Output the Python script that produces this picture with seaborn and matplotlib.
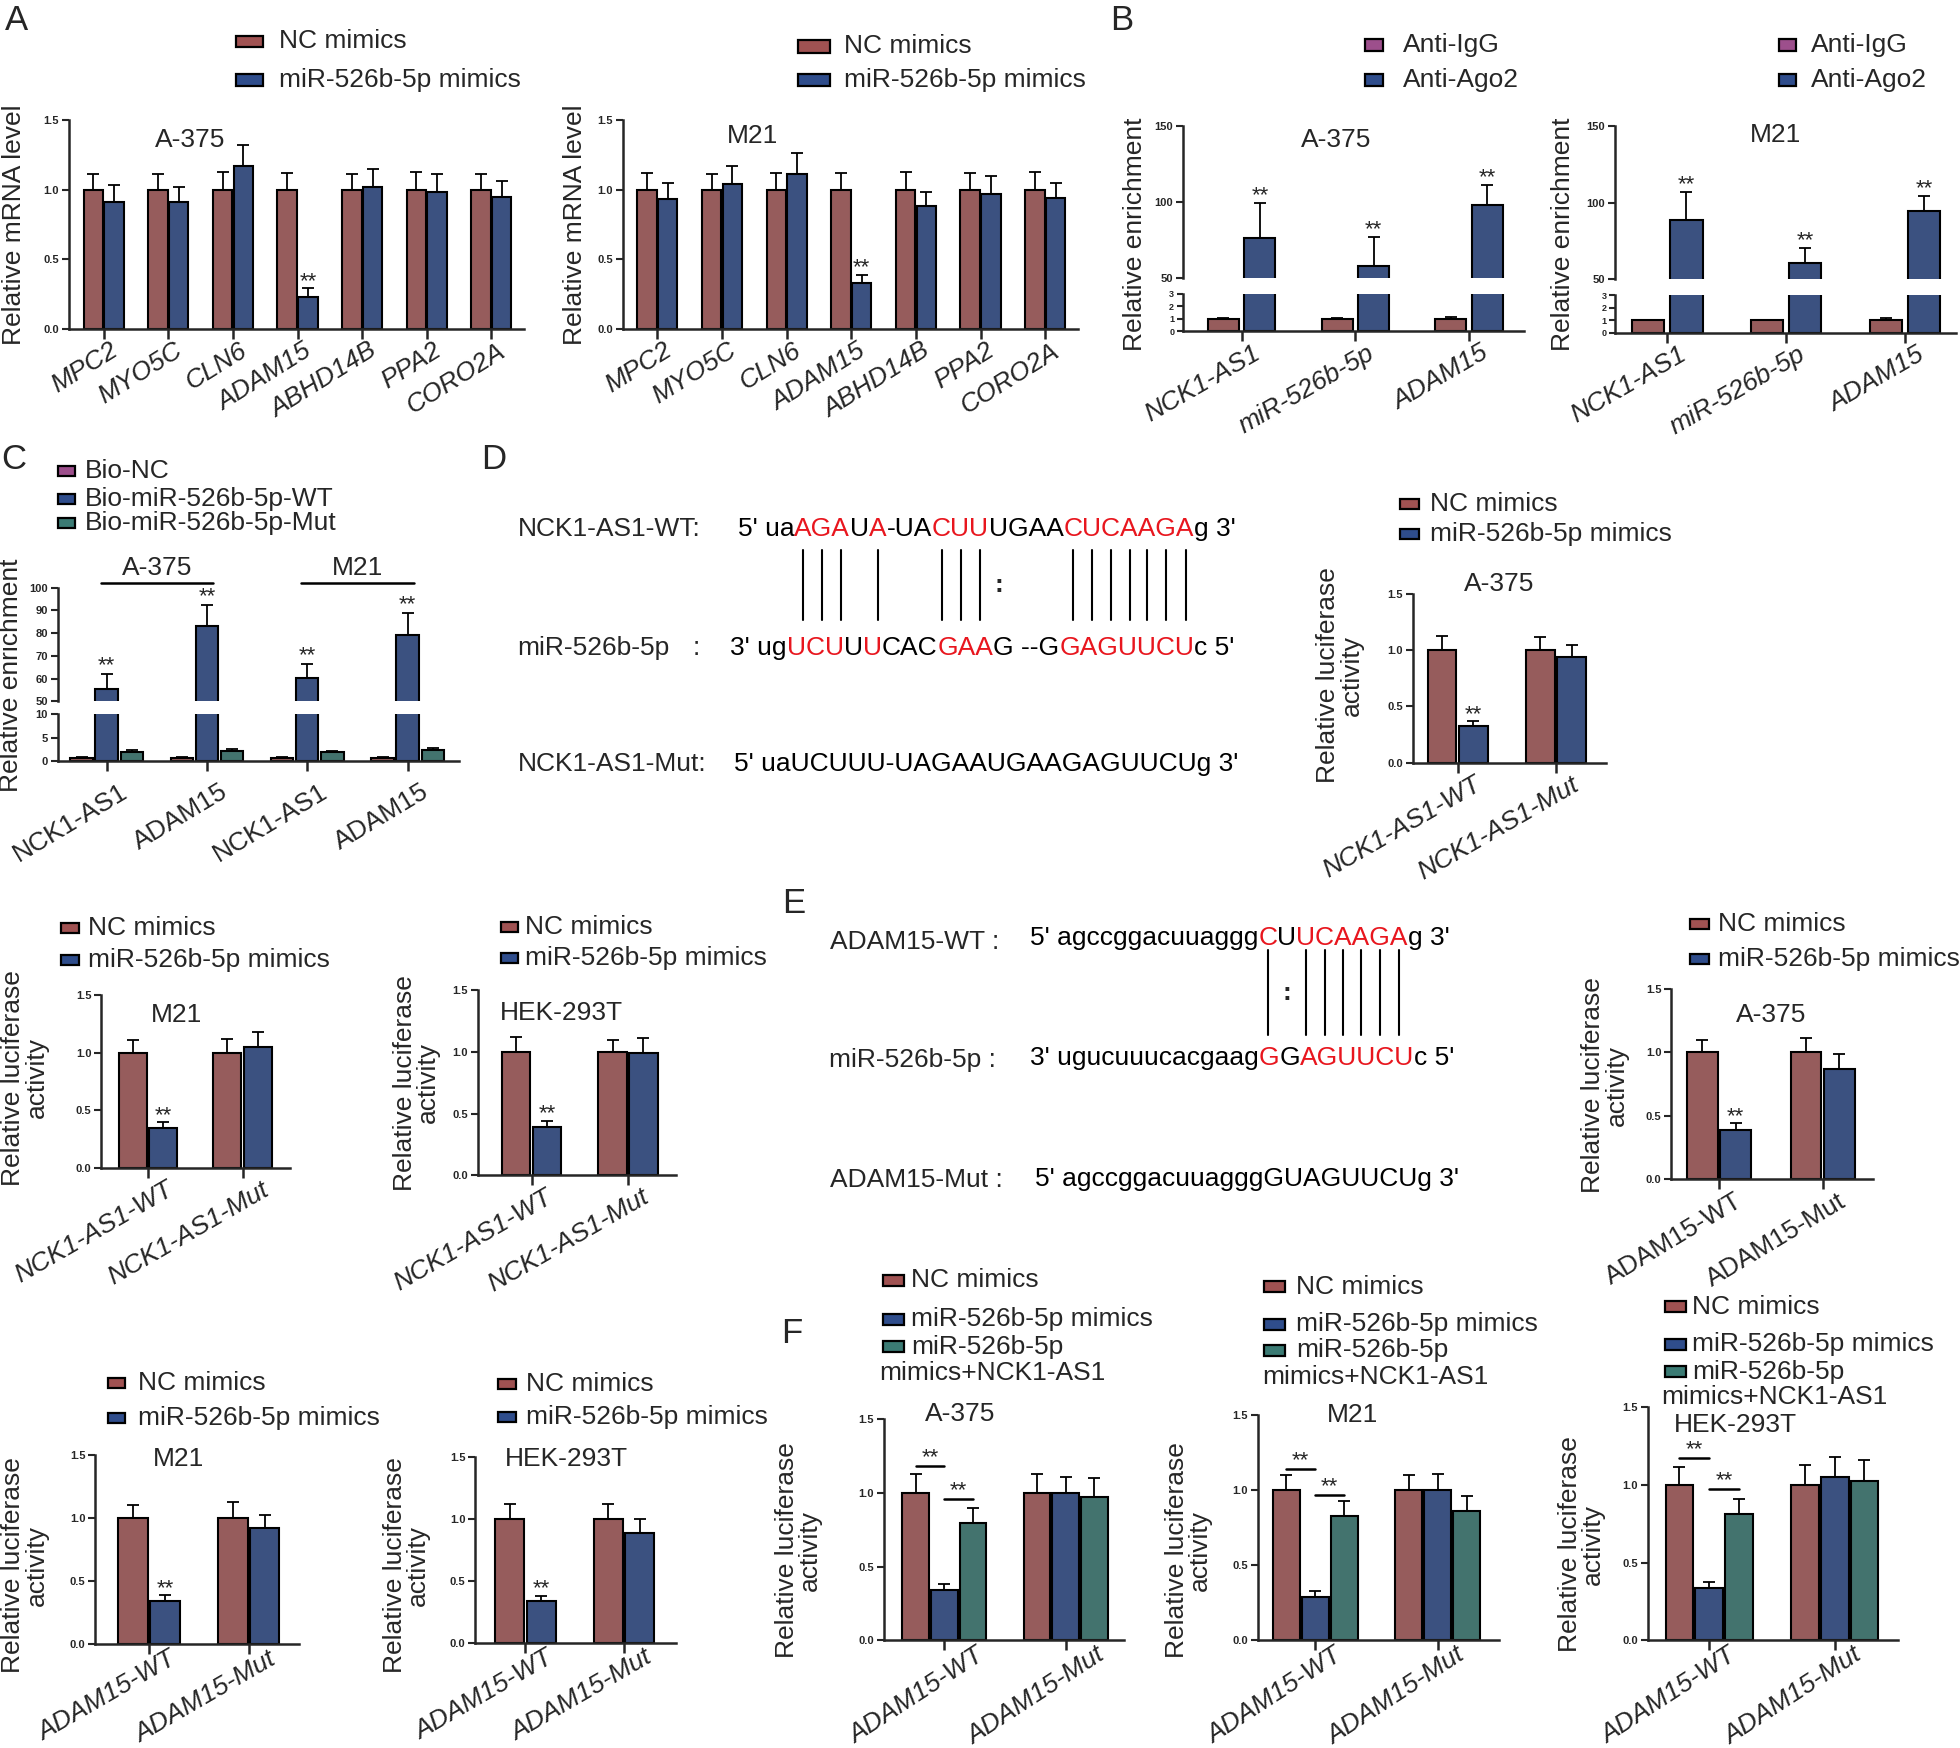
#!/usr/bin/env python3
"""Composite figure: miR-526b-5p targets NCK1-AS1 / ADAM15 (panels A-F)."""

import matplotlib
matplotlib.use("Agg")
import matplotlib.pyplot as plt
import matplotlib.transforms as mtransforms
import numpy as np
import pandas as pd
import seaborn as sns
from matplotlib.font_manager import FontProperties
from matplotlib.lines import Line2D
from matplotlib.patches import Rectangle

sns.set_theme(style="ticks")
plt.rcParams["font.family"] = ["Liberation Sans", "DejaVu Sans"]

# positions are measured on a 1568 x 1398 grid and scaled to the figure
GRID_W, GRID_H = 1568, 1398
FIG_W, FIG_H, DPI = 19.6, 17.48, 100

RED = "#A05252"
BLUE = "#2F4D8C"
TEAL = "#3B7B74"
PURPLE = "#9D4F8C"
SEQ_RED = "#E8161E"
FS = 19

# ---------------- data ----------------
GENES = ["MPC2", "MYO5C", "CLN6", "ADAM15", "ABHD14B", "PPA2", "CORO2A"]
A_A375_NC = [1.00, 1.00, 1.00, 1.00, 1.00, 1.00, 1.00]
A_A375_NC_ERR = [0.11, 0.11, 0.13, 0.12, 0.11, 0.13, 0.11]
A_A375_MIR = [0.91, 0.91, 1.17, 0.23, 1.02, 0.98, 0.95]
A_A375_MIR_ERR = [0.12, 0.11, 0.15, 0.06, 0.13, 0.13, 0.11]
A_M21_NC = [1.00, 1.00, 1.00, 1.00, 1.00, 1.00, 1.00]
A_M21_NC_ERR = [0.12, 0.11, 0.12, 0.12, 0.13, 0.12, 0.13]
A_M21_MIR = [0.93, 1.04, 1.11, 0.33, 0.88, 0.97, 0.94]
A_M21_MIR_ERR = [0.12, 0.13, 0.15, 0.06, 0.10, 0.13, 0.11]

MIMIC_GROUPS = ["NC mimics", "miR-526b-5p mimics"]
RESCUE_GROUPS = ["NC mimics", "miR-526b-5p mimics", "miR-526b-5p mimics+NCK1-AS1"]

B_TARGETS = ["NCK1-AS1", "miR-526b-5p", "ADAM15"]
B_GROUPS = ["Anti-IgG", "Anti-Ago2"]
B_A375_IGG = [1.0, 1.0, 0.95]
B_A375_IGG_ERR = [0.03, 0.03, 0.22]
B_A375_AGO2 = [76.0, 57.5, 98.0]
B_A375_AGO2_ERR = [23.5, 19.5, 13.5]
B_M21_IGG = [1.0, 1.0, 1.0]
B_M21_IGG_ERR = [0.03, 0.03, 0.15]
B_M21_AGO2 = [88.5, 60.5, 94.5]
B_M21_AGO2_ERR = [18.5, 10.0, 10.0]

C_KEYS = ["A375_NCK1", "A375_ADAM15", "M21_NCK1", "M21_ADAM15"]
C_LABELS = ["NCK1-AS1", "ADAM15", "NCK1-AS1", "ADAM15"]
C_CELLS = ["A-375", "M21"]
C_GROUPS = ["Bio-NC", "Bio-miR-526b-5p-WT", "Bio-miR-526b-5p-Mut"]
C_NC = [0.8, 0.8, 0.8, 0.8]
C_NC_ERR = [0.2, 0.2, 0.2, 0.2]
C_WT = [55.6, 83.0, 60.1, 79.1]
C_WT_ERR = [6.4, 9.2, 6.2, 9.8]
C_MUT = [2.0, 2.25, 1.9, 2.45]
C_MUT_ERR = [0.4, 0.35, 0.4, 0.4]

NCK1_SITES = ["NCK1-AS1-WT", "NCK1-AS1-Mut"]
ADAM_SITES = ["ADAM15-WT", "ADAM15-Mut"]

D_A375_NC, D_A375_NC_ERR = [1.0, 1.0], [0.125, 0.12]
D_A375_MIR, D_A375_MIR_ERR = [0.33, 0.94], [0.04, 0.105]
NCK1_M21_NC, NCK1_M21_NC_ERR = [1.0, 1.0], [0.11, 0.12]
NCK1_M21_MIR, NCK1_M21_MIR_ERR = [0.35, 1.05], [0.045, 0.135]
NCK1_HEK_NC, NCK1_HEK_NC_ERR = [1.0, 1.0], [0.12, 0.10]
NCK1_HEK_MIR, NCK1_HEK_MIR_ERR = [0.39, 0.99], [0.05, 0.12]

E_A375_NC, E_A375_NC_ERR = [1.0, 1.0], [0.10, 0.11]
E_A375_MIR, E_A375_MIR_ERR = [0.39, 0.87], [0.05, 0.115]
ADAM_M21_NC, ADAM_M21_NC_ERR = [1.0, 1.0], [0.11, 0.13]
ADAM_M21_MIR, ADAM_M21_MIR_ERR = [0.34, 0.925], [0.05, 0.105]
ADAM_HEK_NC, ADAM_HEK_NC_ERR = [1.0, 1.0], [0.12, 0.115]
ADAM_HEK_MIR, ADAM_HEK_MIR_ERR = [0.34, 0.885], [0.04, 0.11]

F_A375_NC, F_A375_NC_ERR = [1.0, 1.0], [0.13, 0.125]
F_A375_MIR, F_A375_MIR_ERR = [0.34, 1.0], [0.045, 0.11]
F_A375_RES, F_A375_RES_ERR = [0.795, 0.975], [0.10, 0.125]
F_M21_NC, F_M21_NC_ERR = [1.0, 1.0], [0.10, 0.10]
F_M21_MIR, F_M21_MIR_ERR = [0.29, 1.0], [0.04, 0.107]
F_M21_RES, F_M21_RES_ERR = [0.83, 0.86], [0.10, 0.105]
F_HEK_NC, F_HEK_NC_ERR = [1.0, 1.0], [0.11, 0.125]
F_HEK_MIR, F_HEK_MIR_ERR = [0.335, 1.05], [0.04, 0.13]
F_HEK_RES, F_HEK_RES_ERR = [0.81, 1.025], [0.10, 0.13]
F_A375_SIG = [1.18, 0.96]
F_M21_SIG = [1.14, 0.97]
F_HEK_SIG = [1.17, 0.97]

# binding sites: (text, highlighted)
D_WT_SEQ = [("5' ua", 0), ("AGA", 1), ("U", 0), ("A", 1), ("-UA", 0), ("CUU", 1),
            ("UGAA", 0), ("CUCAAGA", 1), ("g 3'", 0)]
D_MIR_SEQ = [("3' ug", 0), ("UCU", 1), ("U", 0), ("U", 1), ("CAC", 0), ("GAA", 1),
             ("G --G", 0), ("GAGUUCU", 1), ("c 5'", 0)]
D_MUT_SEQ = [("5' uaUCUUU-UAGAAUGAAGAGUUCUg 3'", 0)]
D_BONDS = "     ||| |   |||:   |||||||    "
E_WT_SEQ = [("5' agccggacuuaggg", 0), ("C", 1), ("U", 0), ("UCAAGA", 1), ("g 3'", 0)]
E_MIR_SEQ = [("3' ugucuuucacgaag", 0), ("G", 1), ("G", 0), ("AGUUCU", 1), ("c 5'", 0)]
E_MUT_SEQ = [("5' agccggacuuagggGUAGUUCUg 3'", 0)]
E_BONDS = "                 |:||||||    "

LINEAR = [0.0, 0.5, 1.0, 1.5]


def fx(x):
    return x / GRID_W


def fy(y):
    return 1 - y / GRID_H


def rect(left, top, right, bottom):
    return [fx(left), fy(bottom), (right - left) / GRID_W, (bottom - top) / GRID_H]


def draw_bars(ax, cats, groups, values, errors, colors, width, gap):
    rows = [{"cat": c, "grp": g, "val": v}
            for g, vals in zip(groups, values) for c, v in zip(cats, vals)]
    df = pd.DataFrame(rows)
    sns.barplot(data=df, x="cat", y="val", hue="grp", order=cats, hue_order=groups,
                palette=colors, width=width, gap=gap, edgecolor="black", linewidth=1.5,
                errorbar=None, legend=False, ax=ax)
    tops = []
    for cont, err in zip(list(ax.containers), errors):
        xs = np.array([p.get_x() + p.get_width() / 2 for p in cont])
        hs = np.array([p.get_height() for p in cont])
        err = np.asarray(err, dtype=float)
        ax.errorbar(xs, hs, yerr=[np.zeros_like(hs), err], fmt="none", ecolor="black",
                    elinewidth=1.3, capsize=4.5, capthick=1.3)
        tops.append((xs, hs, hs + err))
    ax.set_xlabel("")
    ax.set_ylabel("")
    return tops


def style_axis(ax, xlim, ylim, yticks, ticksize=8):
    sns.despine(ax=ax)
    ax.set_xlim(xlim)
    ax.set_ylim(ylim)
    ax.set_yticks(yticks)
    if max(yticks) <= 2 and any(not float(v).is_integer() for v in yticks):
        labels = [f"{v:.1f}" for v in yticks]
    else:
        labels = [str(int(v)) for v in yticks]
    ax.set_yticklabels(labels, fontsize=ticksize, fontweight="bold")
    for side in ("left", "bottom"):
        ax.spines[side].set_linewidth(1.8)
    ax.tick_params(axis="y", length=5, width=1.5, pad=2)
    ax.tick_params(axis="x", length=7, width=1.8, pad=2)


def set_xlabels(ax, labels, rot, italic, dx=9, dy=2):
    ax.set_xticks(range(len(labels)))
    ax.set_xticklabels(labels, rotation=rot, ha="right", va="top", rotation_mode="anchor",
                       fontsize=FS, style="italic" if italic else "normal")
    shift = mtransforms.ScaledTranslation(dx / 72, dy / 72, ax.figure.dpi_scale_trans)
    for lab in ax.get_xticklabels():
        lab.set_transform(lab.get_transform() + shift)


def hide_x(ax):
    ax.spines["bottom"].set_visible(False)
    ax.tick_params(axis="x", bottom=False, labelbottom=False)


def stars(ax, tops, picks, dy=1):
    for hue, cat in picks:
        xs, _, caps = tops[hue]
        ax.annotate("**", (xs[cat], caps[cat]), xytext=(0, dy), textcoords="offset points",
                    ha="center", va="baseline", fontsize=16)


def legend_box(fig, px, pw, tx, ys, labels, colors, ph=9):
    for y, lab, col in zip(ys, labels, colors):
        fig.add_artist(Rectangle((fx(px), fy(y) - ph / 2 / GRID_H), pw / GRID_W, ph / GRID_H,
                                 transform=fig.transFigure, facecolor=col,
                                 edgecolor="black", linewidth=1.6))
        fig.text(fx(tx), fy(y), lab, fontsize=FS, va="center", ha="left")


def label(fig, x, y, text, rot=0, **kw):
    fig.text(fx(x), fy(y), text, fontsize=kw.pop("size", FS), rotation=rot,
             ha=kw.pop("ha", "center"), va=kw.pop("va", "center"),
             multialignment="center", **kw)


def luc_panel(fig, box, sites, groups, values, errors, colors, xlim, title, title_xy,
              ylab_xy, italic=True, rot=30, width=0.64, gap=0.08, dx=9, dy=2):
    ax = fig.add_axes(rect(*box))
    tops = draw_bars(ax, sites, groups, values, errors, colors, width, gap)
    style_axis(ax, xlim, (0, 1.5), LINEAR)
    set_xlabels(ax, sites, rot, italic, dx=dx, dy=dy)
    label(fig, title_xy[0], title_xy[1], title)
    label(fig, ylab_xy[0], ylab_xy[1], "Relative luciferase\nactivity", rot=90,
          linespacing=0.95)
    return ax, tops


def draw_seq(fig, measure, x, y, segments):
    centers = []
    cur = x
    for text, hot in segments:
        fig.text(fx(cur), fy(y), text, fontsize=FS, va="center", ha="left",
                 color=SEQ_RED if hot else "black")
        for i in range(len(text)):
            centers.append(cur + (measure(text[:i]) + measure(text[:i + 1])) / 2)
        cur += measure(text)
    return centers


def draw_bonds(fig, centers, bonds, y0, y1):
    for cx, b in zip(centers, bonds):
        if b == "|":
            fig.add_artist(Line2D([fx(cx), fx(cx)], [fy(y0), fy(y1)],
                                  transform=fig.transFigure, color="black", linewidth=1.5))
        elif b == ":":
            label(fig, cx, (y0 + y1) / 2, ":", fontweight="bold")


def main() -> None:
    fig = plt.figure(figsize=(FIG_W, FIG_H), dpi=DPI)
    renderer = fig.canvas.get_renderer()
    fprop = FontProperties(family=["Liberation Sans", "DejaVu Sans"], size=FS)

    def measure(s):
        if not s:
            return 0.0
        w, _, _ = renderer.get_text_width_height_descent(s, fprop, ismath=False)
        return w * GRID_W / (FIG_W * DPI)

    for letter, x, y in [("A", 4, 3), ("B", 888, 3), ("C", 1, 354), ("D", 385, 354),
                         ("E", 626, 709), ("F", 625, 1053)]:
        fig.text(fx(x), fy(y), letter, fontsize=25, ha="left", va="top")

    # ---- A ----
    for box, nc, nce, mir, mire, title, txy, ylx, leg in [
        ((55, 96, 419, 263), A_A375_NC, A_A375_NC_ERR, A_A375_MIR, A_A375_MIR_ERR,
         "A-375", (152, 112), 11, (189, 21, 223, [33, 64])),
        ((498, 96, 862, 263), A_M21_NC, A_M21_NC_ERR, A_M21_MIR, A_M21_MIR_ERR,
         "M21", (602, 109), 460, (638, 26, 675, [37, 64])),
    ]:
        ax = fig.add_axes(rect(*box))
        tops = draw_bars(ax, GENES, MIMIC_GROUPS, [nc, mir], [nce, mire], [RED, BLUE],
                         0.64, 0.06)
        style_axis(ax, (-0.54, 6.5), (0, 1.5), LINEAR)
        set_xlabels(ax, GENES, 32, True, dx=4)
        stars(ax, tops, [(1, 3)])
        label(fig, txy[0], txy[1], title)
        label(fig, ylx, 180, "Relative mRNA level", rot=90)
        legend_box(fig, leg[0], leg[1], leg[2], leg[3], MIMIC_GROUPS, [RED, BLUE],
                   ph=10 if leg[1] > 22 else 9)

    # ---- B (broken axis) ----
    for up, low, xlim, igg, igge, ago, agoe, title, txy, ylx, leg in [
        ((946, 101, 1219, 222), (946, 235, 1219, 265), (-0.52, 2.48),
         B_A375_IGG, B_A375_IGG_ERR, B_A375_AGO2, B_A375_AGO2_ERR, "A-375", (1069, 112),
         908, (1092, 1122)),
        ((1292, 101, 1565, 223), (1292, 236, 1565, 266), (-0.44, 2.43),
         B_M21_IGG, B_M21_IGG_ERR, B_M21_AGO2, B_M21_AGO2_ERR, "M21", (1420, 108),
         1250, (1423, 1449)),
    ]:
        ax_u = fig.add_axes(rect(*up))
        tops = draw_bars(ax_u, B_TARGETS, B_GROUPS, [igg, ago], [igge, agoe], [RED, BLUE],
                         0.64, 0.15)
        style_axis(ax_u, xlim, (50, 150), [50, 100, 150])
        hide_x(ax_u)
        stars(ax_u, tops, [(1, 0), (1, 1), (1, 2)])
        ax_l = fig.add_axes(rect(*low))
        draw_bars(ax_l, B_TARGETS, B_GROUPS, [igg, ago], [igge, agoe], [RED, BLUE],
                  0.64, 0.15)
        style_axis(ax_l, xlim, (0, 3), [0, 1, 2, 3], ticksize=6.5)
        ax_l.tick_params(axis="y", length=4)
        set_xlabels(ax_l, B_TARGETS, 30, True, dx=8)
        label(fig, txy[0], txy[1], title)
        label(fig, ylx, 187, "Relative enrichment", rot=90)
        legend_box(fig, leg[0], 14, leg[1], [36, 64], B_GROUPS, [PURPLE, BLUE])

    # ---- C (broken axis) ----
    c_vals = [C_NC, C_WT, C_MUT]
    c_errs = [C_NC_ERR, C_WT_ERR, C_MUT_ERR]
    c_cols = [RED, BLUE, TEAL]
    ax_u = fig.add_axes(rect(46, 470, 367, 561))
    tops = draw_bars(ax_u, C_KEYS, C_GROUPS, c_vals, c_errs, c_cols, 0.75, 0.11)
    style_axis(ax_u, (-0.49, 3.51), (50, 100), [50, 60, 70, 80, 90, 100])
    hide_x(ax_u)
    stars(ax_u, tops, [(1, 0), (1, 1), (1, 2), (1, 3)], dy=2)
    ax_l = fig.add_axes(rect(46, 571, 367, 609))
    draw_bars(ax_l, C_KEYS, C_GROUPS, c_vals, c_errs, c_cols, 0.75, 0.11)
    style_axis(ax_l, (-0.49, 3.51), (0, 10), [0, 5, 10])
    set_xlabels(ax_l, C_LABELS, 31, False, dx=9, dy=-4)
    for k, cell in enumerate(C_CELLS):
        mid = 2 * k + 0.5
        ax_u.plot([mid - 0.56, mid + 0.56], [1.045, 1.045], color="black", lw=1.8,
                  transform=ax_u.get_xaxis_transform(), clip_on=False)
        ax_u.text(mid, 1.17, cell, transform=ax_u.get_xaxis_transform(), ha="center",
                  va="center", fontsize=FS)
    label(fig, 9, 540, "Relative enrichment", rot=90)
    legend_box(fig, 46, 14, 68, [377, 399, 418], C_GROUPS, [PURPLE, BLUE, TEAL], ph=8)

    # ---- D sequences ----
    label(fig, 414, 423, "NCK1-AS1-WT:", ha="left")
    label(fig, 414, 518, "miR-526b-5p", ha="left")
    label(fig, 557, 518, ":")
    label(fig, 414, 611, "NCK1-AS1-Mut:", ha="left")
    centers = draw_seq(fig, measure, 590, 423, D_WT_SEQ)
    draw_seq(fig, measure, 584, 518, D_MIR_SEQ)
    draw_seq(fig, measure, 587, 611, D_MUT_SEQ)
    draw_bonds(fig, centers, D_BONDS, 440, 496)

    # ---- D / row 3 luciferase (NCK1-AS1) ----
    ax, tops = luc_panel(fig, (1130, 475, 1285, 610), NCK1_SITES, MIMIC_GROUPS,
                         [D_A375_NC, D_A375_MIR], [D_A375_NC_ERR, D_A375_MIR_ERR],
                         [RED, BLUE], (-0.46, 1.51), "A-375", (1199, 467), (1072, 540),
                         dx=11)
    stars(ax, tops, [(1, 0)])
    legend_box(fig, 1120, 15, 1144, [403, 427], MIMIC_GROUPS, [RED, BLUE], ph=8)

    ax, tops = luc_panel(fig, (81, 796, 232, 934), NCK1_SITES, MIMIC_GROUPS,
                         [NCK1_M21_NC, NCK1_M21_MIR], [NCK1_M21_NC_ERR, NCK1_M21_MIR_ERR],
                         [RED, BLUE], (-0.49, 1.5), "M21", (141, 812), (20, 862), dx=13)
    stars(ax, tops, [(1, 0)])
    legend_box(fig, 49, 14, 70, [742, 768], MIMIC_GROUPS, [RED, BLUE], ph=8)

    ax, tops = luc_panel(fig, (382, 792, 541, 940), NCK1_SITES, MIMIC_GROUPS,
                         [NCK1_HEK_NC, NCK1_HEK_MIR], [NCK1_HEK_NC_ERR, NCK1_HEK_MIR_ERR],
                         [RED, BLUE], (-0.56, 1.5), "HEK-293T", (449, 810), (333, 866))
    stars(ax, tops, [(1, 0)])
    legend_box(fig, 401, 13, 420, [741, 766], MIMIC_GROUPS, [RED, BLUE], ph=8)

    # ---- E sequences ----
    label(fig, 664, 753, "ADAM15-WT :", ha="left")
    label(fig, 663, 848, "miR-526b-5p :", ha="left")
    label(fig, 664, 944, "ADAM15-Mut :", ha="left")
    centers = draw_seq(fig, measure, 824, 750, E_WT_SEQ)
    draw_seq(fig, measure, 824, 846, E_MIR_SEQ)
    draw_seq(fig, measure, 828, 943, E_MUT_SEQ)
    draw_bonds(fig, centers, E_BONDS, 760, 828)

    # ---- E / row 4 luciferase (ADAM15) ----
    ax, tops = luc_panel(fig, (1337, 791, 1498, 943), ADAM_SITES, MIMIC_GROUPS,
                         [E_A375_NC, E_A375_MIR], [E_A375_NC_ERR, E_A375_MIR_ERR],
                         [RED, BLUE], (-0.46, 1.48), "A-375", (1417, 812), (1284, 868),
                         italic=False, rot=31, dx=11)
    stars(ax, tops, [(1, 0)])
    legend_box(fig, 1352, 15, 1374, [739, 767], MIMIC_GROUPS, [RED, BLUE], ph=8)

    ax, tops = luc_panel(fig, (76, 1164, 239, 1315), ADAM_SITES, MIMIC_GROUPS,
                         [ADAM_M21_NC, ADAM_M21_MIR], [ADAM_M21_NC_ERR, ADAM_M21_MIR_ERR],
                         [RED, BLUE], (-0.54, 1.5), "M21", (143, 1167), (20, 1252),
                         dx=14, dy=7)
    stars(ax, tops, [(1, 0)])
    legend_box(fig, 86, 14, 110, [1106, 1134], MIMIC_GROUPS, [RED, BLUE], ph=8)

    ax, tops = luc_panel(fig, (380, 1165, 541, 1314), ADAM_SITES, MIMIC_GROUPS,
                         [ADAM_HEK_NC, ADAM_HEK_MIR], [ADAM_HEK_NC_ERR, ADAM_HEK_MIR_ERR],
                         [RED, BLUE], (-0.51, 1.53), "HEK-293T", (453, 1167), (325, 1252),
                         dx=14, dy=7)
    stars(ax, tops, [(1, 0)])
    legend_box(fig, 398, 15, 421, [1107, 1133], MIMIC_GROUPS, [RED, BLUE], ph=8)

    # ---- F rescue ----
    for box, vals, errs, sig, xlim, title, txy, ylxy, leg, dx in [
        ((707, 1135, 899, 1312), [F_A375_NC, F_A375_MIR, F_A375_RES],
         [F_A375_NC_ERR, F_A375_MIR_ERR, F_A375_RES_ERR], F_A375_SIG, (-0.5, 1.48),
         "A-375", (768, 1131), (639, 1240), (706, 729, [1024, 1055, 1077], 703, 1098), 22),
        ((1006, 1132, 1199, 1312), [F_M21_NC, F_M21_MIR, F_M21_RES],
         [F_M21_NC_ERR, F_M21_MIR_ERR, F_M21_RES_ERR], F_M21_SIG, (-0.47, 1.5),
         "M21", (1082, 1132), (951, 1240), (1011, 1037, [1029, 1059, 1080], 1010, 1101), 13),
        ((1318, 1125, 1518, 1312), [F_HEK_NC, F_HEK_MIR, F_HEK_RES],
         [F_HEK_NC_ERR, F_HEK_MIR_ERR, F_HEK_RES_ERR], F_HEK_SIG, (-0.49, 1.5),
         "HEK-293T", (1388, 1140), (1265, 1235), (1332, 1354, [1045, 1075, 1097], 1329, 1117),
         13),
    ]:
        ax, tops = luc_panel(fig, box, ADAM_SITES, RESCUE_GROUPS, vals, errs,
                             [RED, BLUE, TEAL], xlim, title, txy, ylxy, width=0.71, gap=0.07,
                             dx=dx, dy=7, rot=33)
        for k, y in enumerate(sig):
            x0 = tops[k][0][0]
            x1 = tops[k + 1][0][0]
            ax.plot([x0, x1], [y, y], color="black", lw=1.8)
            ax.annotate("**", ((x0 + x1) / 2, y), xytext=(0, 2), textcoords="offset points",
                        ha="center", va="baseline", fontsize=16)
        px, tx, ys, px2, y4 = leg
        legend_box(fig, px, 17, tx, ys, ["NC mimics", "miR-526b-5p mimics", "miR-526b-5p"],
                   [RED, BLUE, TEAL])
        label(fig, px2, y4, "mimics+NCK1-AS1", ha="left")

    fig.savefig("out.png", dpi=DPI, facecolor="white")
    plt.close(fig)


if __name__ == "__main__":
    main()
